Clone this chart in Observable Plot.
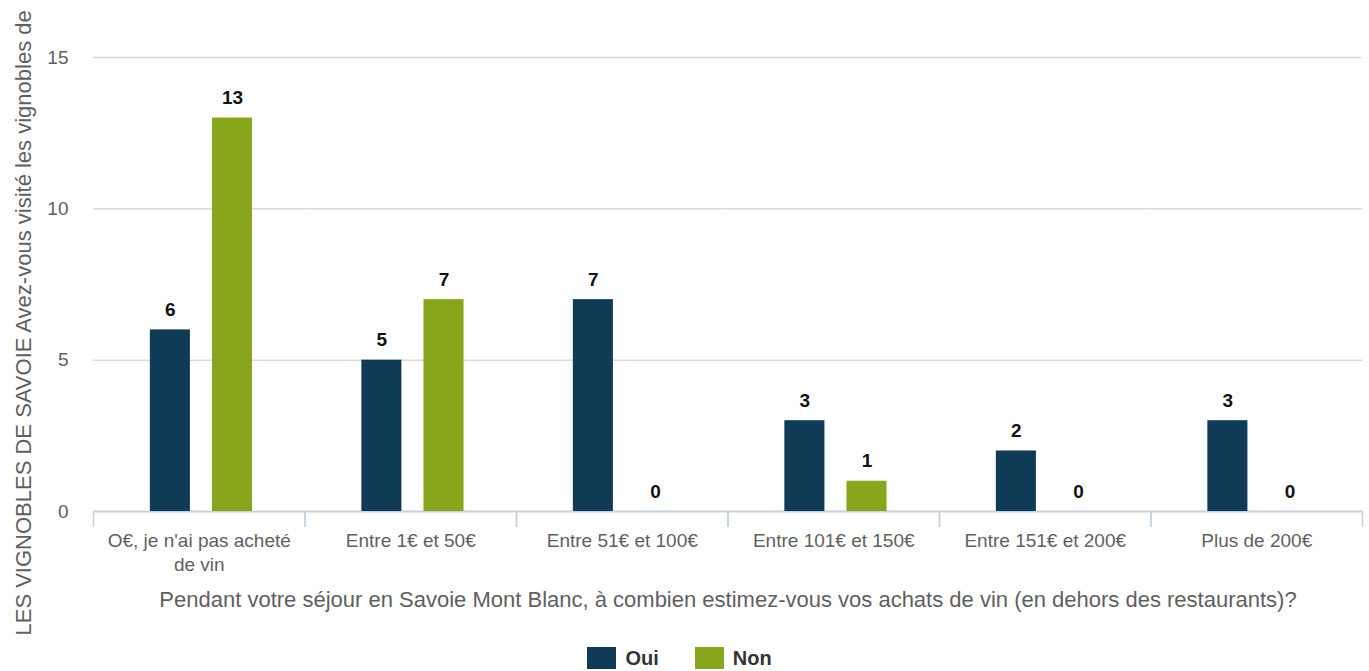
<!DOCTYPE html>
<html>
<head>
<meta charset="utf-8">
<script src="https://cdn.jsdelivr.net/npm/d3@7"></script>
<script src="https://cdn.jsdelivr.net/npm/@observablehq/plot@0.6"></script>
<style>
  html, body { margin: 0; padding: 0; background: #fff; }
  body { width: 1369px; height: 671px; overflow: hidden; font-family: "Liberation Sans", Arial, sans-serif; }
  #legend { display: flex; justify-content: center; align-items: center; gap: 36px; height: 24px; margin-top: 4px; padding-right: 10px; }
  .item { display: flex; align-items: center; gap: 9px; font-weight: bold; font-size: 20px; color: #333; }
  .sw { width: 29px; height: 22px; display: inline-block; }
</style>
</head>
<body>
<div id="chart"></div>
<div id="legend"></div>
<script>
const categories = ["O€, je n'ai pas acheté de vin", "Entre 1€ et 50€", "Entre 51€ et 100€", "Entre 101€ et 150€", "Entre 151€ et 200€", "Plus de 200€"];
const tickLabels = ["O€, je n'ai pas acheté\nde vin", "Entre 1€ et 50€", "Entre 51€ et 100€", "Entre 101€ et 150€", "Entre 151€ et 200€", "Plus de 200€"];
const series = ["Oui", "Non"];
const ouiValues = [6, 5, 7, 3, 2, 3];
const nonValues = [13, 7, 0, 1, 0, 0];
const colors = ["#0f3b57", "#88a61c"];
const yTicks = [0, 5, 10, 15];
const xTitle = "Pendant votre séjour en Savoie Mont Blanc, à combien estimez-vous vos achats de vin (en dehors des restaurants)?";
const yTitle = "LES VIGNOBLES DE SAVOIE Avez-vous visité les vignobles de";

const data = [];
categories.forEach((c, i) => {
  data.push({cat: c, serie: "Oui", value: ouiValues[i]});
  data.push({cat: c, serie: "Non", value: nonValues[i]});
});

const W = 1369, H = 642;
const mL = 93, mR = 7, mT = 57, mB = H - 511;
const bw = (W - mL - mR) / categories.length;
const axisColor = "#c5d3e0";
const gridColor = "#d9d9d9";
const textColor = "#5f5f5f";
const labelMap = new Map(categories.map((c, i) => [c, tickLabels[i]]));

const chart = Plot.plot({
  width: W,
  height: H,
  marginLeft: mL,
  marginRight: mR,
  marginTop: mT,
  marginBottom: mB,
  style: {fontFamily: "'Liberation Sans', Arial, sans-serif", background: "#fff"},
  fx: {domain: categories, padding: 0, round: false},
  x: {domain: series, paddingInner: 0.355, paddingOuter: 0.88, align: 0.52, axis: null, round: false},
  y: {domain: [0, 15]},
  color: {domain: series, range: colors},
  marks: [
    Plot.gridY(yTicks.filter(t => t > 0), {stroke: gridColor, strokeOpacity: 1, strokeWidth: 1.5}),
    Plot.ruleY([0], {stroke: axisColor, strokeWidth: 2}),
    Plot.axisY(yTicks, {tickSize: 0, tickPadding: 25, fontSize: 19, fill: textColor, stroke: axisColor, line: true, label: null}),
    Plot.axisFx({anchor: "bottom", tickSize: 0, tickPadding: 19, fontSize: 19, lineHeight: 1.25, fill: textColor, label: null, tickFormat: d => labelMap.get(d)}),
    Plot.axisFx({anchor: "bottom", text: null, tickSize: 16, dx: -bw / 2, stroke: axisColor, strokeWidth: 1.5, label: null}),
    Plot.axisFx([categories[categories.length - 1]], {anchor: "bottom", text: null, tickSize: 16, dx: bw / 2, stroke: axisColor, strokeWidth: 1.5, label: null}),
    Plot.barY(data, {fx: "cat", x: "serie", y: "value", fill: "serie"}),
    Plot.text(data, {fx: "cat", x: "serie", y: "value", text: d => String(d.value), lineAnchor: "bottom", dy: -14, fontSize: 19, fontWeight: "bold", fill: "#111"}),
    Plot.text([xTitle], {facet: "super", frameAnchor: "bottom", lineAnchor: "top", dy: 80, fontSize: 22, fill: textColor}),
    Plot.text([yTitle], {facet: "super", frameAnchor: "bottom-left", rotate: -90, textAnchor: "start", lineAnchor: "bottom", dx: -63, dy: 124, fontSize: 22, fill: textColor})
  ]
});
document.getElementById("chart").appendChild(chart);

const legend = document.getElementById("legend");
series.forEach((s, i) => {
  const item = document.createElement("div");
  item.className = "item";
  const sw = document.createElement("span");
  sw.className = "sw";
  sw.style.background = colors[i];
  const t = document.createElement("span");
  t.textContent = s;
  item.appendChild(sw);
  item.appendChild(t);
  legend.appendChild(item);
});
</script>
</body>
</html>
